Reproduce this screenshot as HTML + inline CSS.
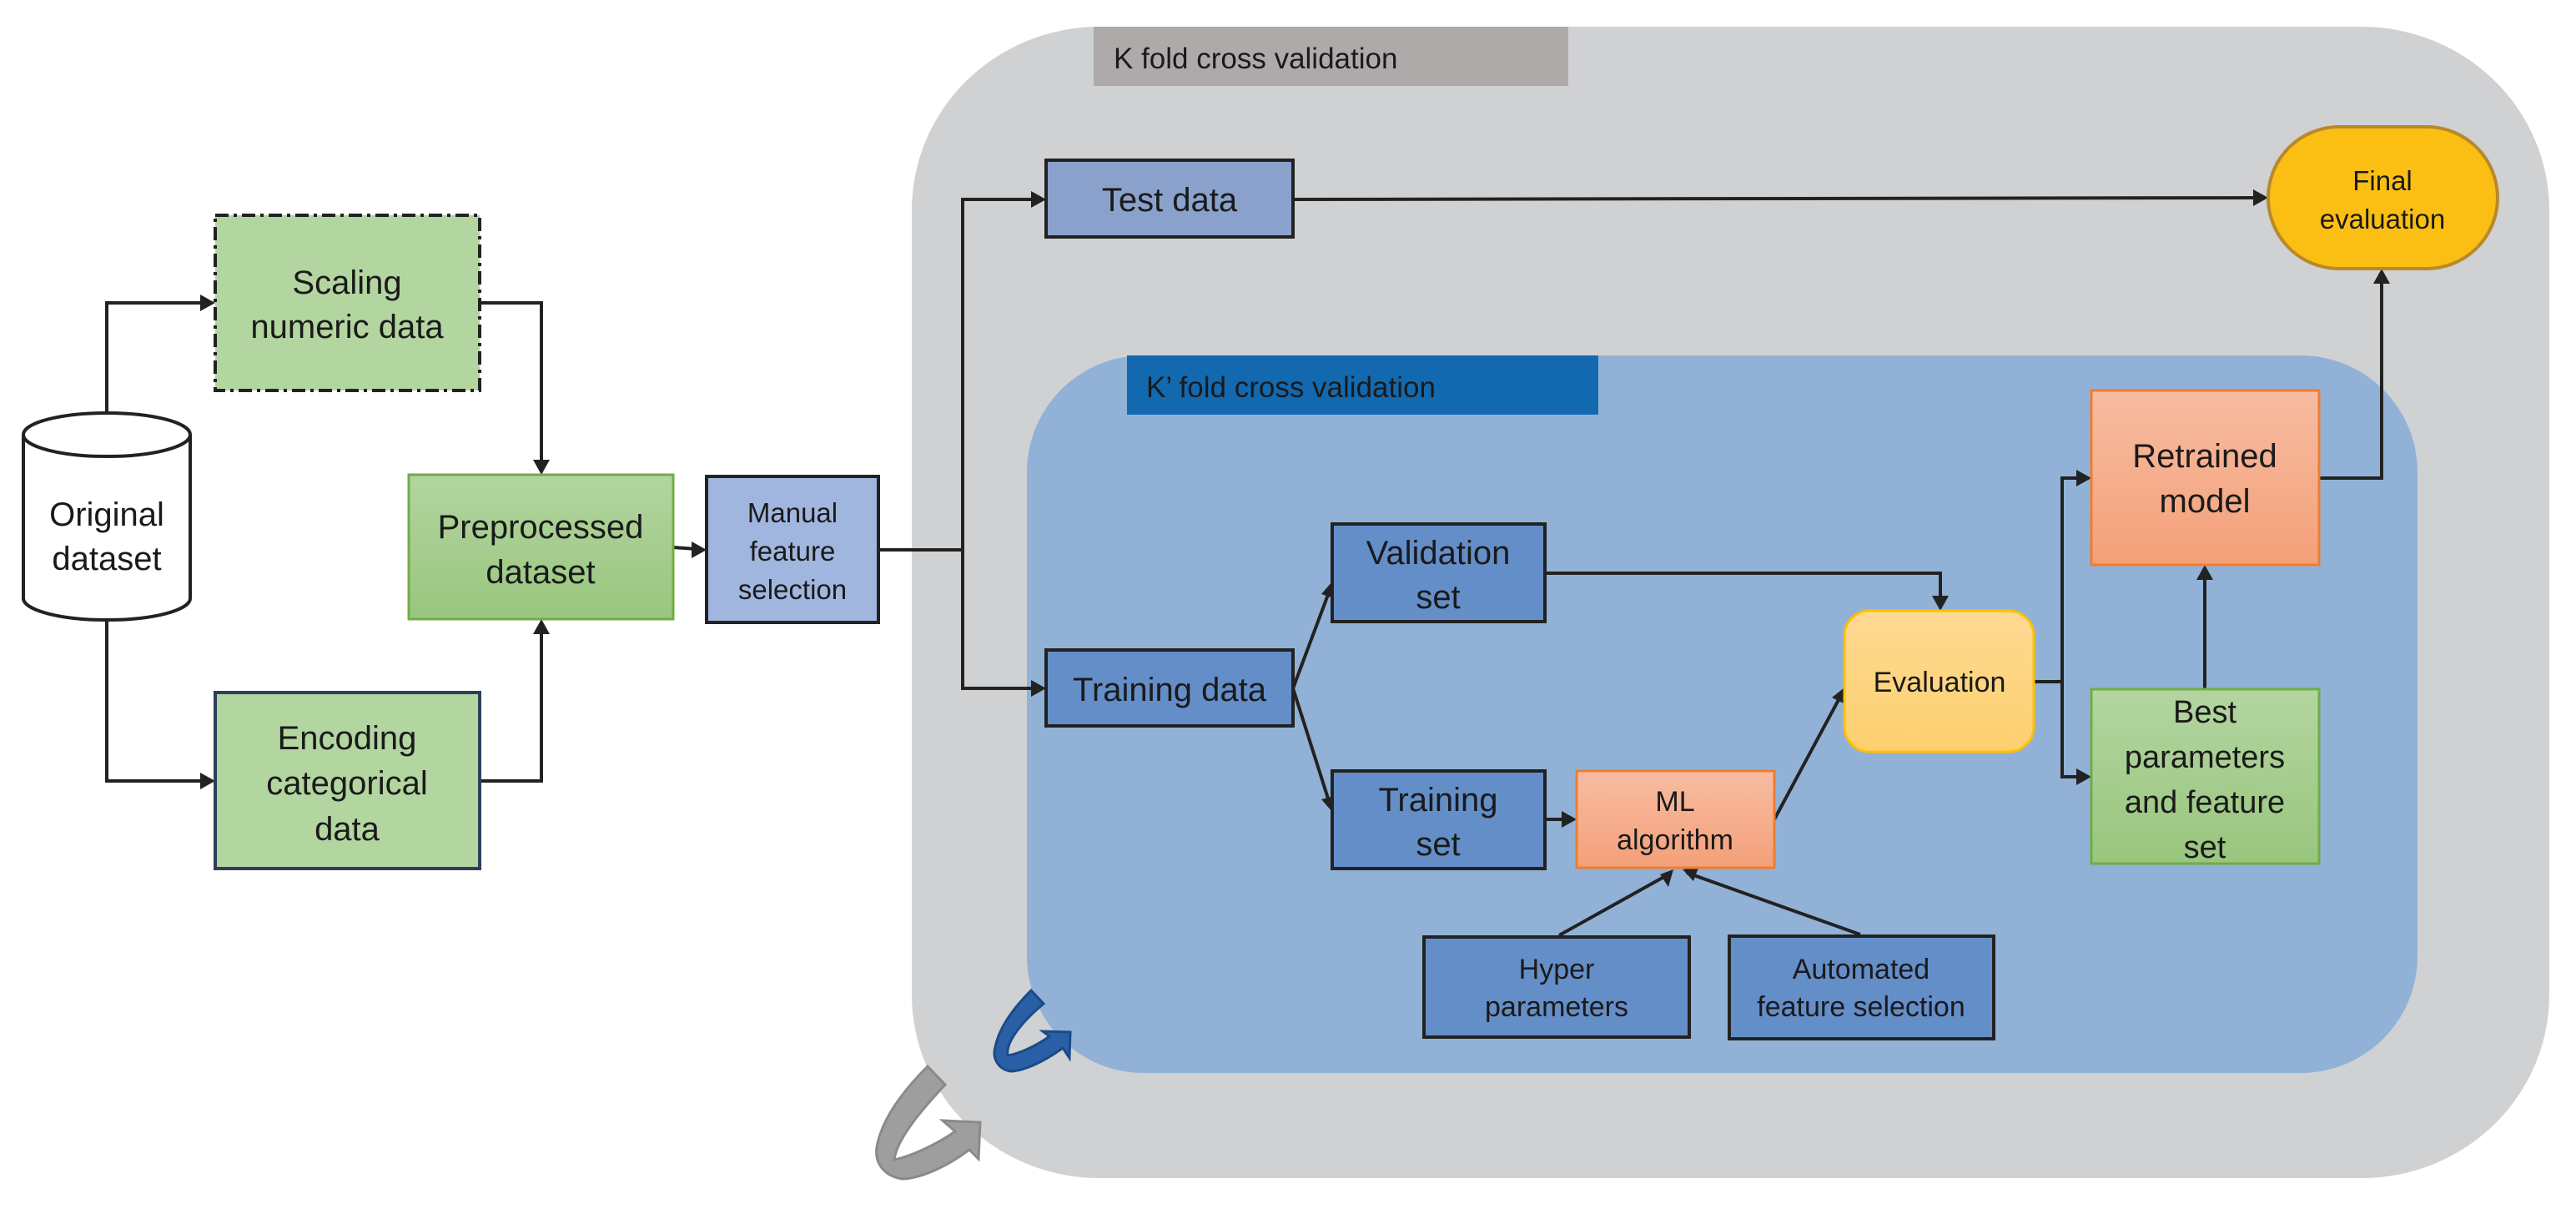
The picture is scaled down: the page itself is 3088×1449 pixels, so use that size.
<!DOCTYPE html>
<html><head><meta charset="utf-8"><style>
html,body{margin:0;padding:0;background:#fff;}
svg{display:block;}
text{font-family:"Liberation Sans",sans-serif;fill:#1a1a1a;text-anchor:middle;}
</style></head><body>
<svg width="3088" height="1449" viewBox="0 0 3088 1449" xmlns="http://www.w3.org/2000/svg">
<defs>
<linearGradient id="gg" x1="0" y1="0" x2="0" y2="1"><stop offset="0" stop-color="#b3d5a0"/><stop offset="1" stop-color="#99c67e"/></linearGradient>
<linearGradient id="og" x1="0" y1="0" x2="0" y2="1"><stop offset="0" stop-color="#f7bca2"/><stop offset="1" stop-color="#f4a078"/></linearGradient>
<linearGradient id="yg" x1="0" y1="0" x2="0" y2="1"><stop offset="0" stop-color="#fed993"/><stop offset="1" stop-color="#fdd06e"/></linearGradient>
</defs>

<rect x="1093" y="32" width="1963" height="1380" rx="225" ry="220" fill="#d0d1d3"/>
<rect x="1311" y="32" width="569" height="71" fill="#aeaaaa"/>
<text x="1335" y="82" style="text-anchor:start;font-size:35px">K fold cross validation</text>

<rect x="1231" y="426" width="1667" height="860" rx="140" ry="140" fill="#91b2d6"/>
<rect x="1351" y="426" width="565" height="71" fill="#1269b0"/>
<text x="1374" y="476" style="text-anchor:start;font-size:35px">K’ fold cross validation</text>

<g stroke="#222" stroke-width="4" fill="none">
<polyline points="128,497 128,363 246,363"/>
<polyline points="128,744 128,936 246,936"/>
<polyline points="575,363 649,363 649,557"/>
<polyline points="575,936 649,936 649,754"/>
<polyline points="807,656 835,658"/>
<polyline points="1053,659 1154,659"/>
<polyline points="1242,239 1154,239 1154,825 1242,825"/>
<polyline points="1550,239 2706,237"/>
<polyline points="1550,825 1593,710"/>
<polyline points="1550,825 1593,960"/>
<polyline points="1851,687 2326,687 2326,720"/>
<polyline points="1851,982 1878,982"/>
<polyline points="2127,982 2206,835"/>
<polyline points="2438,817 2472,817"/>
<polyline points="2495,573 2472,573 2472,931 2495,931"/>
<polyline points="2643,834 2643,689"/>
<polyline points="2780,573 2855,573 2855,334"/>
<polyline points="1869,1121 2000,1048"/>
<polyline points="2230,1120 2022,1046"/>
</g>
<g fill="#222">
<polygon points="258,363 240,353 240,373"/>
<polygon points="258,936 240,926 240,946"/>
<polygon points="649,569 639,551 659,551"/>
<polygon points="649,742 639,760 659,760"/>
<polygon points="847,659 829,649 829,669"/>
<polygon points="1254,239 1236,229 1236,249"/>
<polygon points="1254,825 1236,815 1236,835"/>
<polygon points="2719,237 2701,227 2701,247"/>
<polygon points="1597,697 1584,712 1602,718"/>
<polygon points="1597,973 1584,958 1603,953"/>
<polygon points="2326,732 2316,714 2336,714"/>
<polygon points="1890,982 1872,972 1872,992"/>
<polygon points="2211,824 2196,836 2214,845"/>
<polygon points="2507,573 2489,563 2489,583"/>
<polygon points="2507,931 2489,921 2489,941"/>
<polygon points="2643,677 2633,695 2653,695"/>
<polygon points="2855,322 2845,340 2865,340"/>
<polygon points="2006,1042 1990,1048 2000,1063"/>
<polygon points="2017,1042 2030,1056 2036,1040"/>
</g>

<path d="M28,521 L28,717 A100,26 0 0 0 228,717 L228,521" fill="#fff" stroke="#222" stroke-width="4"/>
<ellipse cx="128" cy="521" rx="100" ry="26" fill="#fff" stroke="#222" stroke-width="4"/>
<text x="128" y="630" style="font-size:40px">Original</text>
<text x="128" y="683" style="font-size:40px">dataset</text>

<rect x="258" y="258" width="317" height="210" fill="#b3d5a0" stroke="#222" stroke-width="4" stroke-dasharray="16,6,4,6"/>
<text x="416" y="352" style="font-size:40px">Scaling</text>
<text x="416" y="405" style="font-size:40px">numeric data</text>

<rect x="258" y="830" width="317" height="211" fill="#b3d5a0" stroke="#2e3e5c" stroke-width="4"/>
<text x="416" y="898" style="font-size:40px">Encoding</text>
<text x="416" y="952" style="font-size:40px">categorical</text>
<text x="416" y="1007" style="font-size:40px">data</text>

<rect x="490" y="569" width="317" height="173" fill="url(#gg)" stroke="#70ad47" stroke-width="3"/>
<text x="648" y="645" style="font-size:40px">Preprocessed</text>
<text x="648" y="699" style="font-size:40px">dataset</text>

<rect x="847" y="571" width="206" height="175" fill="#a0b6de" stroke="#222" stroke-width="4"/>
<text x="950" y="626" style="font-size:33px">Manual</text>
<text x="950" y="672" style="font-size:33px">feature</text>
<text x="950" y="718" style="font-size:33px">selection</text>

<rect x="1254" y="192" width="296" height="92" fill="#8aa1cb" stroke="#222" stroke-width="4"/>
<text x="1402" y="253" style="font-size:40px">Test data</text>

<rect x="1254" y="779" width="296" height="91" fill="#648ec8" stroke="#222" stroke-width="4"/>
<text x="1402" y="840" style="font-size:40px">Training data</text>

<rect x="1597" y="628" width="255" height="117" fill="#648ec8" stroke="#222" stroke-width="4"/>
<text x="1724" y="676" style="font-size:40px">Validation</text>
<text x="1724" y="729" style="font-size:40px">set</text>

<rect x="1597" y="924" width="255" height="117" fill="#648ec8" stroke="#222" stroke-width="4"/>
<text x="1724" y="972" style="font-size:40px">Training</text>
<text x="1724" y="1025" style="font-size:40px">set</text>

<rect x="1890" y="924" width="237" height="116" fill="url(#og)" stroke="#ed7d31" stroke-width="3"/>
<text x="2008" y="972" style="font-size:34px">ML</text>
<text x="2008" y="1018" style="font-size:34px">algorithm</text>

<rect x="2211" y="732" width="227" height="169" rx="30" ry="30" fill="url(#yg)" stroke="#ffc000" stroke-width="3"/>
<text x="2325" y="829" style="font-size:34px">Evaluation</text>

<rect x="2507" y="468" width="273" height="209" fill="url(#og)" stroke="#ed7d31" stroke-width="3"/>
<text x="2643" y="560" style="font-size:40px">Retrained</text>
<text x="2643" y="614" style="font-size:40px">model</text>

<rect x="2507" y="826" width="273" height="209" fill="url(#gg)" stroke="#70ad47" stroke-width="3"/>
<text x="2643" y="866" style="font-size:38px">Best</text>
<text x="2643" y="920" style="font-size:38px">parameters</text>
<text x="2643" y="974" style="font-size:38px">and feature</text>
<text x="2643" y="1028" style="font-size:38px">set</text>

<rect x="2719" y="152" width="275" height="170" rx="85" ry="85" fill="#fbbf14" stroke="#b8892b" stroke-width="4"/>
<text x="2856" y="228" style="font-size:33px">Final</text>
<text x="2856" y="274" style="font-size:33px">evaluation</text>

<rect x="1707" y="1123" width="318" height="120" fill="#648ec8" stroke="#222" stroke-width="4"/>
<text x="1866" y="1173" style="font-size:34px">Hyper</text>
<text x="1866" y="1218" style="font-size:34px">parameters</text>

<rect x="2073" y="1122" width="317" height="123" fill="#648ec8" stroke="#222" stroke-width="4"/>
<text x="2231" y="1173" style="font-size:34px">Automated</text>
<text x="2231" y="1218" style="font-size:34px">feature selection</text>

<path d="M1236,1187 L1251,1203 C1228,1222 1205,1248 1208,1265 C1222,1263 1245,1252 1258,1242 L1250,1236 L1283,1237 L1282,1268 L1274,1256 C1255,1270 1230,1283 1212,1284 C1198,1282 1189,1270 1193,1255 C1198,1230 1218,1205 1236,1187 Z" fill="#2a5fa6" stroke="#1b4a8a" stroke-width="3"/>
<path d="M1112,1278 L1133,1300 C1105,1330 1075,1365 1072,1390 C1095,1385 1125,1370 1145,1356 L1130,1343 L1175,1345 L1173,1389 L1162,1378 C1135,1398 1105,1412 1082,1413 C1062,1410 1048,1396 1051,1375 C1057,1340 1085,1305 1112,1278 Z" fill="#9e9e9f" stroke="#8a8a8b" stroke-width="3"/>
</svg>
</body></html>
